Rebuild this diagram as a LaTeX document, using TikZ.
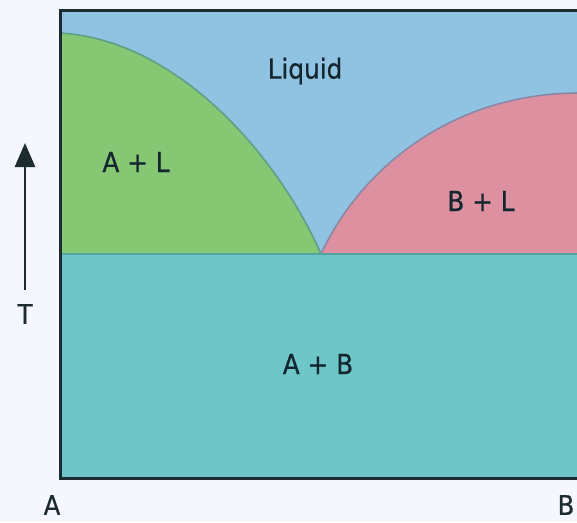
\documentclass[tikz,border=0pt]{standalone}
\usepackage{fontspec}
\setmainfont{DejaVu Sans}[FakeStretch=0.9,FakeBold=0.6]
\usetikzlibrary{arrows.meta}
\definecolor{bgc}{HTML}{F5F7FC}
\definecolor{liq}{HTML}{8FC3E1}
\definecolor{agr}{HTML}{86C774}
\definecolor{bpk}{HTML}{DC90A0}
\definecolor{abt}{HTML}{6EC6C8}
\definecolor{framec}{HTML}{1C2B2F}
\definecolor{curveA}{HTML}{5F9F86}
\definecolor{curveB}{HTML}{8A88A6}
\definecolor{eutc}{HTML}{58A2A2}
\definecolor{txtc}{HTML}{14262F}
\tikzset{
  lbl/.style={font=\fontsize{27.5}{30}\selectfont, text=txtc, inner sep=0pt},
  axlbl/.style={font=\fontsize{27}{30}\selectfont, text=framec, inner sep=0pt},
}
\begin{document}
\begin{tikzpicture}[x=1pt,y=-1pt]
\useasboundingbox (0,0) rectangle (577,522);
\clip (0,0) rectangle (577,522);
\fill[bgc] (0,0) rectangle (577,522);
% regions
\fill[liq] (60,10) rectangle (600,478);
\fill[agr] (60,33) .. controls (180,40) and (280,160) .. (321,254) -- (60,254) -- cycle;
\fill[bpk] (321,254) .. controls (360,170) and (450,94) .. (577,93) -- (600,93) -- (600,254) -- cycle;
\fill[abt] (60,254) rectangle (600,478);
% boundaries
\coordinate (lA) at (60,33);
\coordinate (eut) at (321,254);
\coordinate (lB) at (600,93);
\coordinate (hl) at (60,254);
\coordinate (hr) at (600,254);
\draw[curveA, line width=1.6pt] (lA) .. controls (180,40) and (280,160) .. (eut);
\draw[curveB, line width=1.6pt] (eut) .. controls (360,170) and (450,94) .. (577,93) -- (lB);
\draw[eutc, line width=1.8pt] (hl) -- (hr);
% frame
\draw[framec, line width=3pt] (600,10) -- (60,10) -- (60,478) -- (600,478);
% labels
\node[lbl] (liquid) at (305,71) {Liquid};
\node[lbl] (al) at (136,162) {A + L};
\node[lbl] (bl) at (481,201) {B + L};
\node[lbl] (ab) at (318,364) {A + B};
\node[axlbl] (a) at (52,505) {A};
\node[axlbl] (b) at (566,505) {B};
\node[axlbl] (t) at (25,314) {T};
% temperature arrow
\coordinate (tbot) at (25,290);
\coordinate (ttop) at (25,143);
\draw[framec, line width=2.6pt, -{Triangle[width=20pt,length=24pt]}] (tbot) -- (ttop);
\end{tikzpicture}
\end{document}
